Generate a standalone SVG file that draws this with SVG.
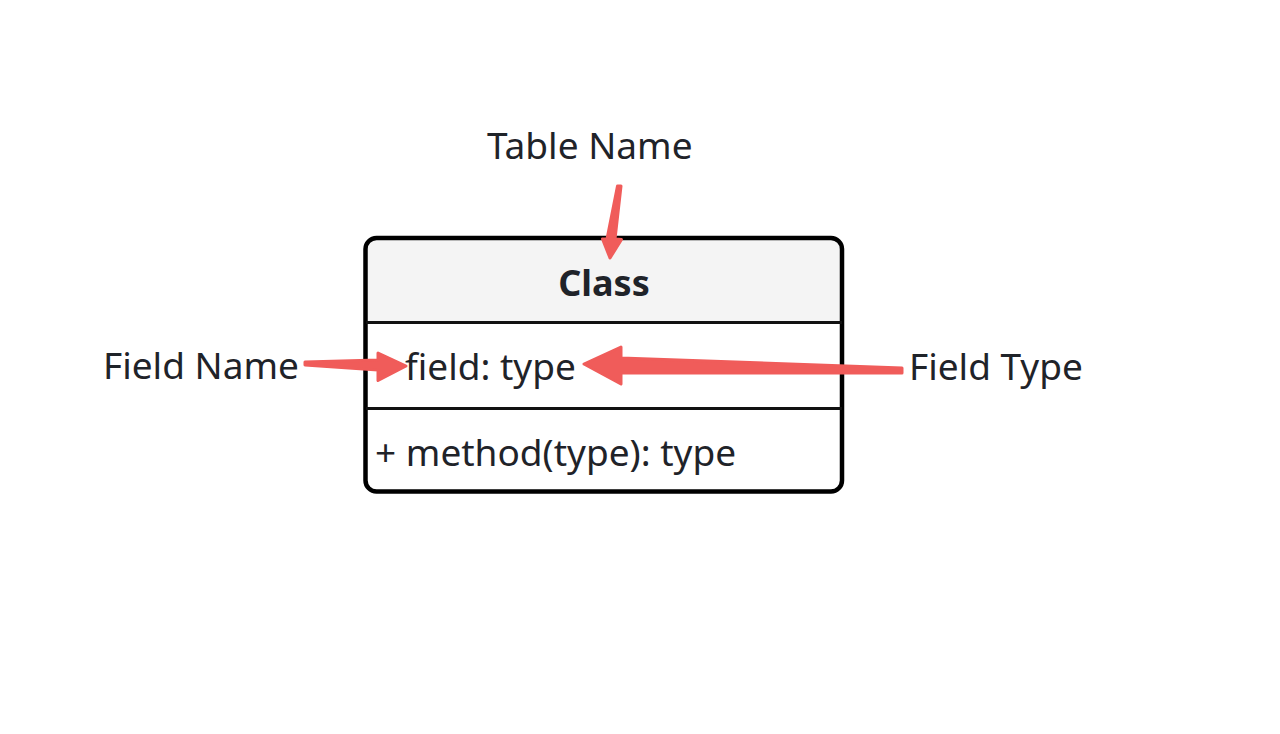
<svg xmlns="http://www.w3.org/2000/svg" width="1280" height="734" viewBox="0 0 1280 734">
<style>
.lbl{font-family:"Noto Sans","Liberation Sans",sans-serif;font-size:37px;fill:#1f2329}
.bold{font-weight:bold;font-size:36px}
.arrow{fill:#f05c5a;stroke:#f05c5a;stroke-width:3;stroke-linejoin:round}
.div{stroke:#111;stroke-width:3}
</style>
<rect width="1280" height="734" fill="#ffffff"/>
<g id="class-node">
  <path d="M365.5,322 V249 A11,11 0 0 1 376.5,238 H831 A11,11 0 0 1 842,249 V322 Z" fill="#f4f4f4"/>
  <rect x="365.5" y="238" width="476.5" height="253.5" rx="11" fill="none" stroke="#000" stroke-width="4.5"/>
  <line class="div" x1="366" y1="322.5" x2="842" y2="322.5"/>
  <line class="div" x1="366" y1="408.5" x2="842" y2="408.5"/>
  <text class="lbl bold" x="604" y="296" text-anchor="middle">Class</text>
  <text class="lbl" x="405" y="380">field: type</text>
  <text class="lbl" x="375" y="466">+ method(type): type</text>
</g>
<g id="label-table-name"><text class="lbl" x="487" y="159">Table Name</text></g>
<g id="label-field-name"><text class="lbl" x="103" y="379">Field Name</text></g>
<g id="label-field-type"><text class="lbl" x="909" y="380">Field Type</text></g>
<g id="connectors">
  <path class="arrow" d="M617.5,186 L621,186 L615,239 L621.5,239.5 L610,258 L602.5,239 L607,239 Z"/>
  <path class="arrow" d="M305,362 L378,360 L378,353 L406,366 L378,380.5 L378,370 L305,365 Z"/>
  <path class="arrow" d="M902,368 L621,358 L621,347 L584,364 L621,384 L621,373 L902,373 Z"/>
</g>
</svg>
